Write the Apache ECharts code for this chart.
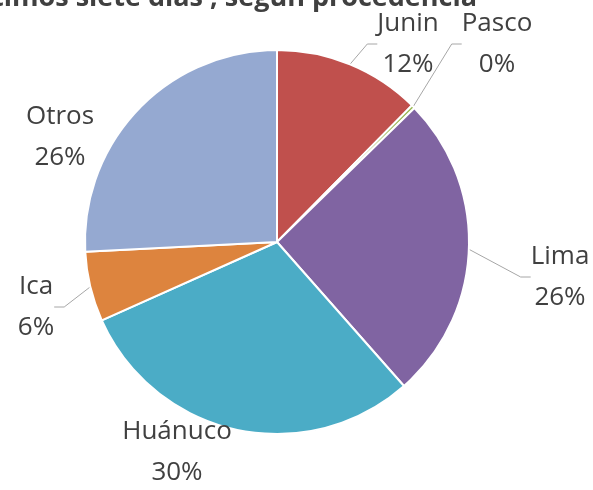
<!DOCTYPE html>
<html>
<head>
<meta charset="utf-8">
<style>
  html, body { margin: 0; padding: 0; background: #fff; }
  #chart { width: 593px; height: 490px; }
</style>
<script src="https://cdn.jsdelivr.net/npm/echarts@6/dist/echarts.min.js"></script>
</head>
<body>
<div id="chart"></div>
<script>
(function() {
  // procedencia de los casos (%)
  var names = ['Junin', 'Pasco', 'Lima', 'Huánuco', 'Ica', 'Otros'];
  var values = [12.4, 0.3, 25.8, 29.8, 5.9, 25.8];
  var colors = ['#C0504D', '#9BBB59', '#8064A2', '#4BACC6', '#DD843E', '#95A9D1'];
  var showLine = [true, true, true, false, true, false];

  // centro de cada etiqueta (como en el original de Excel)
  var labelPos = [[408, 44], [497, 44], [560, 277], [177, 452], [36, 307], [60, 137]];

  var chart = echarts.init(document.getElementById('chart'), null, { renderer: 'canvas' });

  var data = names.map(function(n, i) {
    return {
      name: n,
      value: values[i],
      itemStyle: { color: colors[i] },
      labelLine: { show: showLine[i] }
    };
  });

  chart.setOption({
    animation: false,
    title: {
      text: 'Casos en los últimos siete días , según procedencia',
      right: 116,
      top: -15,
      padding: 0,
      textStyle: { color: '#404040', fontSize: 27, fontWeight: 'bold', fontFamily: 'Open Sans' }
    },
    series: [{
      type: 'pie',
      center: [277, 242],
      radius: 192,
      startAngle: 90,
      clockwise: true,
      minAngle: 0,
      avoidLabelOverlap: false,
      itemStyle: { borderColor: '#fff', borderWidth: 2 },
      label: {
        show: true,
        formatter: function(p) { return p.name + '\n' + Math.round(p.percent) + '%'; },
        color: '#404040',
        fontSize: 26,
        fontFamily: 'Open Sans',
        lineHeight: 41,
        align: 'center'
      },
      labelLine: {
        show: true,
        length: 10,
        length2: 10,
        lineStyle: { color: '#A6A6A6', width: 1 }
      },
      labelLayout: function(p) {
        var pos = labelPos[p.dataIndex];
        return { x: pos[0], y: pos[1], align: 'center', verticalAlign: 'middle' };
      },
      data: data
    }]
  });
})();
</script>
</body>
</html>
